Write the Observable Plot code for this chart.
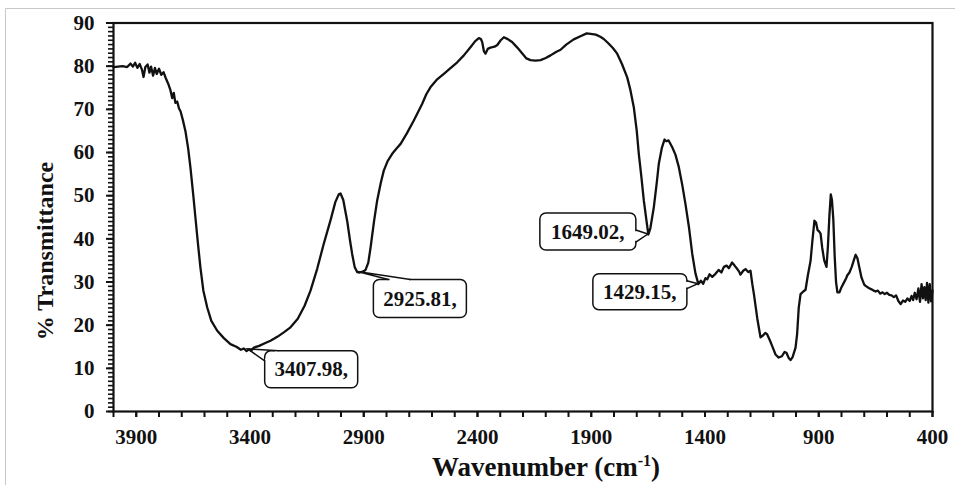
<!DOCTYPE html>
<html>
<head>
<meta charset="utf-8">
<script src="https://cdn.jsdelivr.net/npm/d3@7"></script>
<script src="https://cdn.jsdelivr.net/npm/@observablehq/plot@0.6"></script>
<style>
  html, body { margin: 0; padding: 0; background: #fff; }
  #chart { position: relative; width: 955px; height: 485px; overflow: hidden; }
</style>
</head>
<body>
<div id="chart"></div>
<script>
// ---- data ----
const wavenumber = [
  4000, 3980, 3960, 3940, 3925, 3915, 3905, 3895, 3885, 3875, 3868, 3860, 3850, 3842, 3835, 3826, 3818, 3810, 3800, 3790,
  3780, 3770, 3760, 3750, 3742, 3735, 3728, 3720, 3712, 3705, 3695, 3684, 3672, 3662, 3650, 3640, 3628, 3618, 3605, 3588,
  3570, 3544, 3515, 3486, 3460, 3440, 3427, 3415, 3405, 3395, 3383, 3360, 3335, 3310, 3280, 3250, 3222, 3190, 3160, 3134,
  3105, 3076, 3045, 3025, 3010, 3002, 2990, 2973, 2960, 2951, 2940, 2929, 2918, 2905, 2892, 2880, 2870, 2855, 2841, 2825,
  2812, 2795, 2775, 2755, 2738, 2710, 2680, 2660, 2643, 2625, 2607, 2580, 2548, 2520, 2489, 2460, 2431, 2410, 2394, 2385,
  2379, 2372, 2365, 2355, 2343, 2325, 2313, 2298, 2284, 2265, 2248, 2225, 2204, 2185, 2167, 2145, 2123, 2100, 2079, 2055,
  2035, 2010, 1977, 1945, 1920, 1903, 1880, 1860, 1845, 1825, 1805, 1786, 1765, 1742, 1728, 1713, 1700, 1691, 1680, 1669,
  1658, 1649, 1640, 1625, 1612, 1603, 1590, 1578, 1570, 1560, 1544, 1530, 1515, 1500, 1486, 1470, 1456, 1442, 1429, 1418,
  1408, 1398, 1390, 1380, 1368, 1354, 1340, 1328, 1317, 1305, 1295, 1281, 1270, 1258, 1250, 1244, 1232, 1222, 1210, 1200,
  1192, 1185, 1170, 1156, 1145, 1135, 1127, 1115, 1105, 1090, 1076, 1062, 1050, 1042, 1032, 1024, 1015, 1002, 995, 988,
  980, 968, 958, 948, 936, 928, 919, 912, 905, 898, 892, 885, 876, 866, 860, 853, 847, 842, 836, 830,
  824, 818, 809, 800, 790, 780, 775, 765, 755, 745, 738, 730, 722, 712, 700, 694, 680, 668, 658, 650,
  640, 630, 620, 610, 600, 590, 580, 570, 560, 550, 540, 530, 520, 510, 500, 492, 485, 478, 470, 462,
  455, 448, 442, 436, 430, 424, 418, 412, 406, 400
];
const transmittance = [
  79.8, 79.9, 80.0, 79.8, 80.6, 79.9, 80.8, 79.6, 80.5, 79.2, 77.5, 79.8, 80.4, 78.5, 79.9, 77.8, 79.6, 78.2, 79.4, 78.0,
  78.6, 77.2, 76.0, 74.5, 72.6, 73.8, 71.5, 71.8, 70.2, 69.5, 67.5, 65.0, 61.0, 56.6, 50.5, 45.0, 38.5, 33.4, 28.0, 24.1,
  21.0, 18.7, 17.0, 15.6, 15.0, 14.3, 14.6, 14.0, 14.4, 14.1, 14.8, 15.2, 15.8, 16.4, 17.3, 18.4, 19.5, 21.5, 24.5, 28.0,
  33.0, 38.8, 44.5, 48.5, 50.3, 50.5, 49.0, 44.2, 39.5, 36.5, 33.5, 32.3, 32.2, 32.4, 32.8, 34.5, 38.0, 44.0, 48.9, 53.0,
  55.8, 58.0, 59.7, 61.0, 62.0, 64.5, 67.4, 69.5, 71.3, 73.5, 75.1, 76.8, 78.2, 79.5, 80.9, 82.5, 84.4, 85.8, 86.5, 86.3,
  85.5, 83.5, 82.9, 84.0, 84.3, 84.5, 84.9, 86.0, 86.7, 86.2, 85.6, 84.3, 83.0, 81.8, 81.4, 81.3, 81.4, 81.9, 82.5, 83.3,
  83.8, 85.0, 86.2, 87.0, 87.6, 87.5, 87.3, 86.8, 86.3, 85.3, 84.2, 82.9, 80.5, 77.4, 74.5, 70.5, 65.0, 59.7, 54.5, 48.9,
  44.5, 41.0, 42.5, 47.3, 53.0, 57.4, 61.0, 63.0, 62.6, 62.8, 61.2, 59.5, 56.6, 52.5, 48.1, 42.5, 36.5, 32.0, 29.5, 30.3,
  29.6, 30.9, 30.6, 31.8, 31.2, 31.9, 32.8, 32.2, 33.5, 33.8, 33.2, 34.5, 33.8, 33.0, 32.4, 31.7, 32.6, 33.0, 32.3, 32.6,
  29.5, 27.2, 21.5, 17.2, 17.6, 18.2, 17.9, 16.5, 15.2, 13.2, 12.5, 12.8, 13.8, 13.6, 12.4, 11.9, 12.6, 14.8, 18.0, 24.0,
  27.2, 27.8, 28.2, 31.5, 34.9, 39.5, 44.2, 43.8, 42.0, 41.7, 41.2, 38.0, 35.0, 33.5, 38.0, 45.5, 50.3, 49.0, 44.5, 36.0,
  30.0, 27.6, 27.6, 28.8, 29.8, 30.8, 31.5, 32.2, 33.5, 35.2, 36.3, 35.5, 33.5, 31.0, 29.4, 29.1, 28.6, 28.3, 28.0, 27.8,
  28.0, 27.3, 27.6, 27.2, 27.5, 27.0, 26.9, 26.5, 26.9, 25.6, 24.9, 25.7, 25.4, 26.2, 25.6, 26.8, 25.8, 27.5, 26.0, 28.5,
  25.4, 29.5, 26.2, 28.8, 25.8, 29.8, 25.2, 29.5, 25.5, 28.0
];

const peakWavenumbers = [3407.98, 2925.81, 1649.02, 1429.15];
const peakTransmittance = [14.4, 32.3, 41.0, 29.5];
const peakLabels = ["3407.98,", "2925.81,", "1649.02,", "1429.15,"];

const xMajorTicks = [3900, 3400, 2900, 2400, 1900, 1400, 900, 400];
const xMinorTicks = d3.range(400, 4001, 100);
const yMajorTicks = d3.range(0, 91, 10);
const yMinorTicks = d3.range(0, 91, 1);

const xTitleMain = "Wavenumber (cm";
const xTitleSup = "-1";
const xTitleEnd = ")";
const yTitle = "% Transmittance";

// ---- styling / layout (pixel offsets of the callout boxes from their anchor points) ----
const FONT = '"Liberation Serif", "Times New Roman", Times, serif';
const INK = "#111";
const calloutLayout = [
  { dx: 17, dy: 2,  w: 93, h: 37, b1: [0, 10], b2: [14, 0] },
  { dx: 16, dy: 8,  w: 93, h: 38, b1: [15, 0], b2: [37, 0] },
  { dx: -108, dy: -21, w: 96, h: 37, b1: [96, 17], b2: [96, 29] },
  { dx: -105, dy: -10, w: 94, h: 36, b1: [94, 7], b2: [94, 15] }
];

const spectrum = wavenumber.map((w, i) => ({ w, t: transmittance[i] }));

const chart = Plot.plot({
  width: 955,
  height: 485,
  marginLeft: 113,
  marginRight: 23,
  marginTop: 22.5,
  marginBottom: 74,
  style: { fontFamily: FONT, fontSize: "21px", fontWeight: "bold", color: INK, background: "transparent", overflow: "visible" },
  x: { domain: [4000, 400] },
  y: { domain: [0, 90] },
  marks: [
    Plot.axisX({ ticks: xMinorTicks, tickSize: 6, tickFormat: () => "", strokeWidth: 2, label: null }),
    Plot.axisX({ ticks: xMajorTicks, tickSize: 6, tickPadding: 12, tickFormat: d => String(d), strokeWidth: 2, label: null }),
    Plot.axisY({ ticks: yMinorTicks, tickSize: 5, tickFormat: () => "", strokeWidth: 1.6, label: null }),
    Plot.axisY({ ticks: yMajorTicks, tickSize: 7, tickPadding: 12, tickFormat: d => String(d), strokeWidth: 2, label: null }),
    Plot.frame({ stroke: INK, strokeWidth: 2.2 }),
    Plot.line(spectrum, { x: "w", y: "t", stroke: INK, strokeWidth: 2.3, strokeLinejoin: "round" })
  ]
});

document.getElementById("chart").appendChild(chart);

// scales from Plot
const sx = chart.scale("x"), sy = chart.scale("y");
const X = sx.apply ? v => sx.apply(v) : d3.scaleLinear(sx.domain, sx.range);
const Y = sy.apply ? v => sy.apply(v) : d3.scaleLinear(sy.domain, sy.range);

const svg = d3.select(chart);

// light grey outer border (top & left)
svg.append("line").attr("x1", 5.5).attr("x2", 955).attr("y1", 8.5).attr("y2", 8.5)
  .attr("stroke", "#c8c8c8").attr("stroke-width", 1);
svg.append("line").attr("x1", 5.5).attr("x2", 5.5).attr("y1", 8.5).attr("y2", 485)
  .attr("stroke", "#c8c8c8").attr("stroke-width", 1);

// axis titles
const xt = svg.append("text")
  .attr("x", 546).attr("y", 476)
  .attr("text-anchor", "middle")
  .attr("font-family", FONT).attr("font-weight", "bold").attr("font-size", 27).attr("fill", INK);
xt.append("tspan").text(xTitleMain);
xt.append("tspan").attr("dy", -10).attr("font-size", 16).text(xTitleSup);
xt.append("tspan").attr("dy", 10).text(xTitleEnd);

svg.append("text")
  .attr("transform", "translate(53,251) rotate(-90)")
  .attr("text-anchor", "middle")
  .attr("font-family", FONT).attr("font-weight", "bold").attr("font-size", 24).attr("fill", INK)
  .text(yTitle);

// callouts
const cg = svg.append("g").attr("aria-label", "callouts");
peakWavenumbers.forEach((w, i) => {
  const L = calloutLayout[i];
  const px = X(w), py = Y(peakTransmittance[i]);
  const left = px + L.dx, top = py + L.dy;
  const b1 = [left + L.b1[0], top + L.b1[1]];
  const b2 = [left + L.b2[0], top + L.b2[1]];
  cg.append("rect")
    .attr("x", left).attr("y", top).attr("width", L.w).attr("height", L.h)
    .attr("rx", 6).attr("ry", 6)
    .attr("fill", "#fff").attr("stroke", INK).attr("stroke-width", 1.5);
  const ux = b2[0] - b1[0], uy = b2[1] - b1[1], len = Math.hypot(ux, uy);
  cg.append("line")
    .attr("x1", b1[0] + ux / len * 1.2).attr("y1", b1[1] + uy / len * 1.2)
    .attr("x2", b2[0] - ux / len * 1.2).attr("y2", b2[1] - uy / len * 1.2)
    .attr("stroke", "#fff").attr("stroke-width", 3);
  cg.append("path")
    .attr("d", `M${b1[0]},${b1[1]}L${px},${py}L${b2[0]},${b2[1]}`)
    .attr("fill", "none").attr("stroke", INK).attr("stroke-width", 1.5).attr("stroke-linejoin", "miter");
  cg.append("text")
    .attr("x", left + L.w / 2).attr("y", top + L.h / 2 + 7)
    .attr("text-anchor", "middle")
    .attr("font-family", FONT).attr("font-weight", "bold").attr("font-size", 21).attr("fill", INK)
    .text(peakLabels[i]);
});
</script>
</body>
</html>
